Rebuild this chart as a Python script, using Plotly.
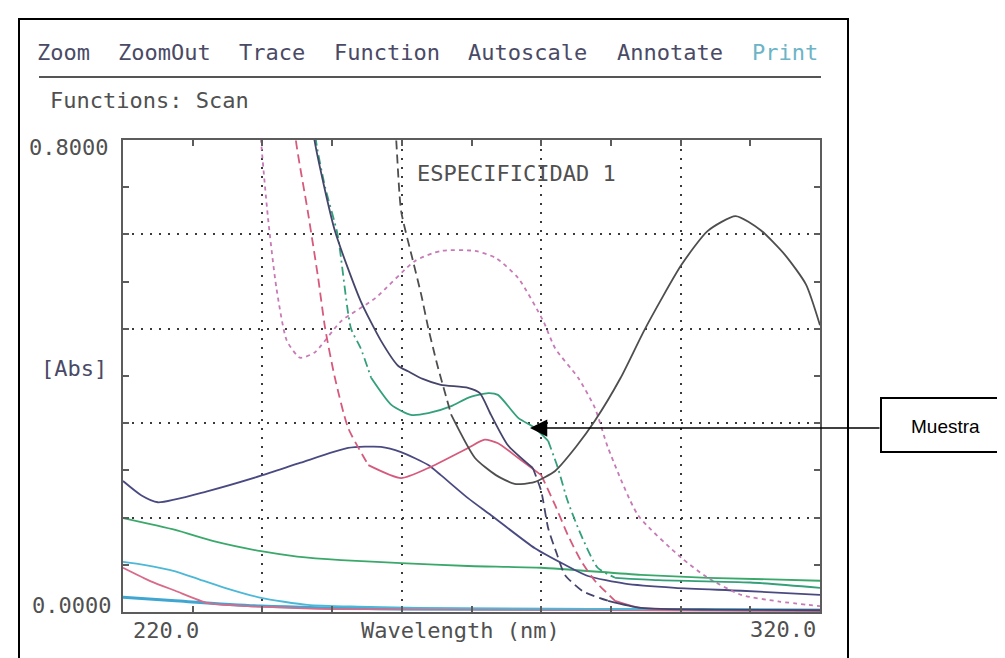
import plotly.graph_objects as go

# ---------------- data (wavelength nm, absorbance) ----------------
WL_BLACK = [258.8, 259.2, 259.9, 261.5, 262.8, 263.8, 264.5, 265.2, 267.1, 270.5, 273.5, 276.2, 279.0, 282.0, 285.0, 287.7, 291.4, 294.9, 300.1, 303.9, 307.9, 311.5, 315.0, 318.0, 320.0]
A_BLACK = [0.87, 0.800, 0.680, 0.600, 0.537, 0.481, 0.447, 0.414, 0.334, 0.261, 0.232, 0.217, 0.220, 0.239, 0.280, 0.324, 0.397, 0.480, 0.588, 0.646, 0.671, 0.647, 0.605, 0.555, 0.486]

WL_NAVY = [246.8, 247.5, 250.4, 254.1, 257.0, 259.5, 260.9, 263.0, 265.6, 269.5, 271.2, 272.8, 275.2, 278.8, 280.0, 281.0, 282.2, 283.4, 286.0, 289.6, 294.3, 305.0, 320.0]
A_NAVY = [0.87, 0.798, 0.646, 0.527, 0.460, 0.417, 0.408, 0.395, 0.385, 0.380, 0.371, 0.334, 0.283, 0.244, 0.205, 0.142, 0.100, 0.063, 0.035, 0.019, 0.007, 0.004, 0.003]

WL_GREEN_M = [247.4, 247.7, 249.0, 250.8, 252.7, 254.1, 255.6, 258.5, 261.3, 263.8, 267.1, 269.5, 272.4, 273.8, 276.7, 279.1, 281.0, 282.4, 283.8, 285.7, 288.1, 290.6, 296.8, 310.0, 320.0]
A_GREEN_M = [0.87, 0.798, 0.720, 0.639, 0.481, 0.447, 0.397, 0.351, 0.334, 0.337, 0.349, 0.363, 0.371, 0.368, 0.329, 0.312, 0.290, 0.244, 0.188, 0.131, 0.075, 0.058, 0.054, 0.050, 0.041]

WL_GREEN_L = [220.0, 227.5, 233.0, 239.8, 245.0, 251.3, 259.9, 269.5, 280.0, 294.3, 303.9, 320.0]
A_GREEN_L = [0.159, 0.139, 0.120, 0.103, 0.094, 0.088, 0.083, 0.078, 0.075, 0.063, 0.058, 0.053]

WL_NAVY2 = [220.0, 222.6, 225.0, 232.2, 239.8, 245.5, 252.3, 257.0, 259.9, 263.8, 265.6, 269.5, 272.8, 279.1, 283.4, 286.7, 292.0, 299.2, 308.7, 320.0]
A_NAVY2 = [0.222, 0.198, 0.186, 0.205, 0.231, 0.253, 0.278, 0.280, 0.271, 0.249, 0.232, 0.193, 0.164, 0.108, 0.080, 0.061, 0.048, 0.041, 0.036, 0.029]

WL_PINK_DOT = [239.5, 239.8, 240.8, 242.0, 243.5, 245.4, 247.5, 251.3, 256.2, 261.9, 265.6, 270.5, 273.5, 276.7, 280.3, 282.0, 285.3, 287.7, 289.6, 293.9, 300.1, 303.9, 308.7, 314.0, 320.0]
A_PINK_DOT = [0.87, 0.800, 0.668, 0.550, 0.460, 0.431, 0.440, 0.493, 0.532, 0.595, 0.612, 0.612, 0.600, 0.566, 0.493, 0.447, 0.397, 0.346, 0.278, 0.164, 0.092, 0.058, 0.029, 0.018, 0.010]

WL_RED = [244.5, 244.8, 246.5, 248.0, 249.0, 250.4, 252.3, 255.2, 259.9, 263.8, 269.5, 271.9, 273.8, 276.7, 280.0, 282.0, 283.8, 285.7, 287.7, 290.6, 294.3, 320.0]
A_RED = [0.87, 0.800, 0.680, 0.566, 0.481, 0.397, 0.312, 0.249, 0.227, 0.244, 0.278, 0.292, 0.286, 0.261, 0.232, 0.181, 0.131, 0.087, 0.053, 0.019, 0.007, 0.003]

WL_CYAN_U = [220.0, 223.0, 227.5, 231.0, 234.6, 239.8, 246.5, 253.7, 270.0, 320.0]
A_CYAN_U = [0.085, 0.080, 0.069, 0.055, 0.041, 0.024, 0.012, 0.009, 0.006, 0.004]

WL_PINK_L = [220.0, 224.0, 227.5, 232.2, 237.9, 250.0, 320.0]
A_PINK_L = [0.075, 0.052, 0.036, 0.015, 0.010, 0.005, 0.002]

WL_CYAN_L = [220.0, 227.5, 239.8, 260.0, 320.0]
A_CYAN_L = [0.025, 0.019, 0.010, 0.005, 0.003]

MENU_ITEMS = ["Zoom", "ZoomOut", "Trace", "Function", "Autoscale", "Annotate", "Print"]
X_RANGE = [220, 320]
Y_RANGE = [0.0, 0.8]

# ---------------- layout geometry ----------------
W, H = 1005, 658
L, R, T, B = 115, 812, 132, 604


def px(xp):
    return (xp - L) / (R - L)


def py(yp):
    return (B - yp) / (B - T)


LONG = "9px,5px"
DASHDOT = "9px,4px,2px,4px"
DOTTED = "4px,4px"

fig = go.Figure()


def add_segments(wl, a, color, pieces, width=1.8):
    # pieces: list of (lo, hi, dash)
    for lo, hi, dash in pieces:
        xs = [w for w in wl if lo <= w <= hi]
        ys = [v for w, v in zip(wl, a) if lo <= w <= hi]
        fig.add_trace(go.Scatter(
            x=xs, y=ys, mode="lines",
            line=dict(color=color, width=width, dash=dash, shape="spline", smoothing=0.6),
            hoverinfo="skip", showlegend=False))


add_segments(WL_CYAN_L, A_CYAN_L, "#3fa6d2", [(200, 400, "solid")], width=3)
add_segments(WL_PINK_L, A_PINK_L, "#d86a8a", [(200, 400, "solid")])
add_segments(WL_CYAN_U, A_CYAN_U, "#4cb8d8", [(200, 400, "solid")])
add_segments(WL_GREEN_L, A_GREEN_L, "#3aa86a", [(200, 400, "solid")])
add_segments(WL_NAVY2, A_NAVY2, "#4a4a82", [(200, 400, "solid")])
add_segments(WL_PINK_DOT, A_PINK_DOT, "#c77ab6", [(200, 400, DOTTED)])
add_segments(WL_RED, A_RED, "#d65a7c",
             [(200, 255.2, LONG), (255.2, 280.0, "solid"), (280.0, 290.6, LONG), (290.6, 400, "solid")])
add_segments(WL_GREEN_M, A_GREEN_M, "#34a07a",
             [(200, 255.6, DASHDOT), (255.6, 281.0, "solid"), (281.0, 290.6, DASHDOT), (290.6, 400, "solid")])
add_segments(WL_NAVY, A_NAVY, "#45456c",
             [(200, 278.8, "solid"), (278.8, 289.6, LONG), (289.6, 400, "solid")])
add_segments(WL_BLACK, A_BLACK, "#4e4e4e",
             [(200, 267.1, LONG), (267.1, 400, "solid")])

AXIS_COL = "#5c5c5c"
GRID_COL = "#3a3a3a"

fig.update_xaxes(
    range=X_RANGE, showline=True, linecolor=AXIS_COL, linewidth=2, mirror="ticks",
    showgrid=True, gridcolor=GRID_COL, gridwidth=2, griddash="2px,7px",
    dtick=20, tick0=220, ticks="inside", ticklen=6, tickwidth=2, tickcolor=AXIS_COL,
    showticklabels=False, zeroline=False,
    minor=dict(dtick=10, tick0=220, ticks="inside", ticklen=6, tickwidth=2, tickcolor=AXIS_COL, showgrid=False),
)
fig.update_yaxes(
    range=Y_RANGE, showline=True, linecolor=AXIS_COL, linewidth=2, mirror="ticks",
    showgrid=True, gridcolor=GRID_COL, gridwidth=2, griddash="2px,7px",
    dtick=0.16, tick0=0, ticks="inside", ticklen=6, tickwidth=2, tickcolor=AXIS_COL,
    showticklabels=False, zeroline=False,
    minor=dict(dtick=0.08, tick0=0, ticks="inside", ticklen=6, tickwidth=2, tickcolor=AXIS_COL, showgrid=False),
)

MONO = "DejaVu Sans Mono"
TXT = "#4a4a66"
GRAYTXT = "#505050"

annotations = []
# menu bar words (monospace, two-char gaps)
char_w = (809 - 27) / 58.0
pos = 27.0
for i, word in enumerate(MENU_ITEMS):
    color = "#6cb4c6" if word == "Print" else TXT
    annotations.append(dict(x=px(pos), y=py(44), xref="paper", yref="paper", text=word, showarrow=False,
                            xanchor="left", yanchor="middle", font=dict(family=MONO, size=22, color=color)))
    pos += (len(word) + 2) * char_w

annotations += [
    dict(x=px(40), y=py(92), text="Functions: Scan", xanchor="left",
         font=dict(family=MONO, size=22, color=GRAYTXT)),
    dict(x=px(102), y=py(140), text="0.8000", xanchor="right",
         font=dict(family=MONO, size=22, color=GRAYTXT)),
    dict(x=px(105), y=py(597), text="0.0000", xanchor="right",
         font=dict(family=MONO, size=22, color=GRAYTXT)),
    dict(x=px(31), y=py(360), text="[Abs]", xanchor="left",
         font=dict(family=MONO, size=22, color=TXT)),
    dict(x=px(123), y=py(622), text="220.0", xanchor="left",
         font=dict(family=MONO, size=22, color=GRAYTXT)),
    dict(x=px(810), y=py(621), text="320.0", xanchor="right",
         font=dict(family=MONO, size=22, color=GRAYTXT)),
    dict(x=px(452), y=py(622), text="Wavelength (nm)", xanchor="center",
         font=dict(family=MONO, size=22, color=GRAYTXT)),
    dict(x=px(407), y=py(165), text="ESPECIFICIDAD 1", xanchor="left",
         font=dict(family=MONO, size=22, color=GRAYTXT)),
    dict(x=px(937), y=py(418), text="Muestra", xanchor="center",
         font=dict(family="Liberation Sans Narrow, Arial Narrow, Liberation Sans", size=19, color="#000000")),
]
for a in annotations:
    a.setdefault("xref", "paper")
    a.setdefault("yref", "paper")
    a.setdefault("showarrow", False)
    a.setdefault("yanchor", "middle")

# arrow pointing to the sample curve
annotations.append(dict(x=px(522), y=py(420), xref="paper", yref="paper", text="",
                        showarrow=True, ax=873 - 522, ay=0, arrowhead=2, arrowsize=2.3,
                        arrowwidth=1.5, arrowcolor="#000000"))

shapes = [
    # outer frame
    dict(type="rect", xref="paper", yref="paper", x0=px(11), x1=px(840), y0=py(720), y1=py(11),
         line=dict(color="#000000", width=2)),
    # menu underline
    dict(type="line", xref="paper", yref="paper", x0=px(31), x1=px(813), y0=py(69), y1=py(69),
         line=dict(color="#555555", width=2)),
    # callout box
    dict(type="rect", xref="paper", yref="paper", x0=px(873), x1=px(998), y0=py(444), y1=py(390),
         line=dict(color="#000000", width=2)),
]

fig.update_layout(
    width=W, height=H, margin=dict(l=L, r=W - R, t=T, b=H - B),
    paper_bgcolor="white", plot_bgcolor="white", showlegend=False,
    annotations=annotations, shapes=shapes,
)

fig.write_html("out.html")
